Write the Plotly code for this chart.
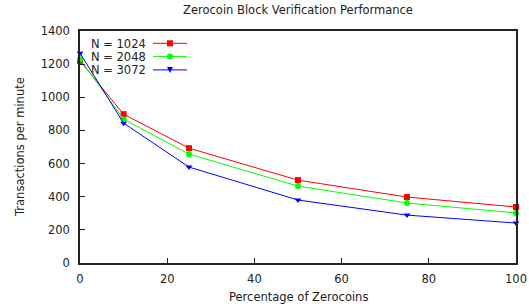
import plotly.graph_objects as go

pct = [0, 10, 25, 50, 75, 100]
n1024 = [1220, 898, 693, 500, 398, 338]
n2048 = [1230, 868, 657, 464, 362, 302]
n3072 = [1266, 844, 579, 380, 289, 241]
names = ["N = 1024", "N = 2048", "N = 3072"]
colors = ["#ff0000", "#00ff00", "#0000ff"]
symbols = ["square", "circle", "triangle-down"]
x_ticks = [0, 20, 40, 60, 80, 100]
y_ticks = [0, 200, 400, 600, 800, 1000, 1200, 1400]

W, H = 529, 307
L, R, T, B = 80, 13, 31, 44

fig = go.Figure()
for name, ys, c, s in zip(names, [n1024, n2048, n3072], colors, symbols):
    fig.add_trace(go.Scatter(x=pct, y=ys, mode="lines+markers", name=name,
                             line=dict(color=c, width=1),
                             marker=dict(symbol=s, size=6, color=c, line=dict(width=0)),
                             showlegend=False, cliponaxis=False))

font = dict(family="DejaVu Sans", size=11.5, color="#222222")
pw, ph = W - L - R, H - T - B

def px(xp):
    return (xp - L) / pw

def py(yp):
    return 1 - (yp - T) / ph

shapes = []
annotations = []
for i, (name, c, s) in enumerate(zip(names, colors, symbols)):
    yy = 43.3 + 13.3 * i
    annotations.append(dict(x=px(90), y=py(yy), xref="paper", yref="paper", text=name,
                            showarrow=False, xanchor="left", yanchor="middle", font=font,
                            height=13, valign="middle", borderpad=0))
    shapes.append(dict(type="line", xref="paper", yref="paper", x0=px(153), x1=px(187),
                       y0=py(yy), y1=py(yy), line=dict(color=c, width=1)))
    cx, r = 170, 3
    if s == "square":
        shapes.append(dict(type="rect", xref="paper", yref="paper", x0=px(cx - r), x1=px(cx + r),
                           y0=py(yy - r), y1=py(yy + r), fillcolor=c, line=dict(width=0)))
    elif s == "circle":
        shapes.append(dict(type="circle", xref="paper", yref="paper", x0=px(cx - r), x1=px(cx + r),
                           y0=py(yy - r), y1=py(yy + r), fillcolor=c, line=dict(width=0)))
    else:
        shapes.append(dict(type="path", xref="paper", yref="paper",
                           path=f"M {px(cx - r)} {py(yy - r)} L {px(cx + r)} {py(yy - r)} L {px(cx)} {py(yy + r)} Z",
                           fillcolor=c, line=dict(width=0)))

annotations.append(dict(x=0.5, y=py(297), xref="paper", yref="paper",
                        text="Percentage of Zerocoins", showarrow=False,
                        xanchor="center", yanchor="middle", font=font))
annotations.append(dict(x=px(20), y=0.5, xref="paper", yref="paper",
                        text="Transactions per minute", showarrow=False, textangle=-90,
                        xanchor="center", yanchor="middle", font=font))

fig.update_layout(
    width=W, height=H,
    margin=dict(l=L, r=R, t=T, b=B, autoexpand=False),
    paper_bgcolor="white", plot_bgcolor="white",
    font=font,
    title=dict(text="Zerocoin Block Verification Performance", x=0.5, xref="paper",
               xanchor="center", y=1 - 10 / H, yanchor="middle", font=font),
    shapes=shapes, annotations=annotations,
    xaxis=dict(range=[0, 100], tickvals=x_ticks, ticks="inside", ticklen=5, tickcolor="#222222",
               showline=True, linecolor="#222222", linewidth=1.5, mirror=True, showgrid=False,
               zeroline=False, automargin=False, tickfont=font, ticklabelstandoff=4),
    yaxis=dict(range=[0, 1400], tickvals=y_ticks, ticks="inside", ticklen=5, tickcolor="#222222",
               showline=True, linecolor="#222222", linewidth=1.5, mirror=True, showgrid=False,
               zeroline=False, automargin=False, tickfont=font, ticklabelstandoff=6),
)

fig.write_html("out.html", config={"displayModeBar": False},
               post_script="document.body.style.margin='0';")
